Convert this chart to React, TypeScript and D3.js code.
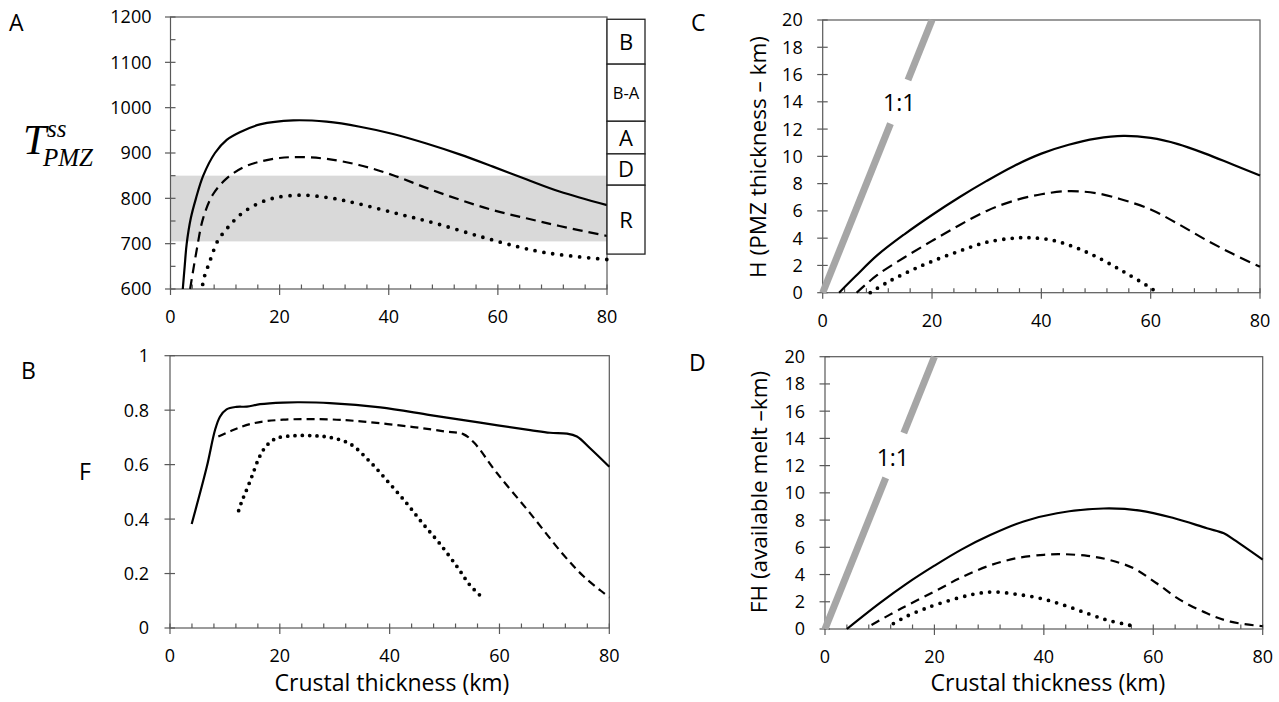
import React from 'react';
import * as d3 from 'd3';

type Pt = [number, number];

// ---------- data ----------
const crustTicks = [0, 20, 40, 60, 80];
const tempTicks = [600, 700, 800, 900, 1000, 1100, 1200];
const tempMinorTicks = [650, 750, 850, 950, 1050, 1150];
const meltTicks = [0, 0.2, 0.4, 0.6, 0.8, 1];
const thickTicks = [0, 2, 4, 6, 8, 10, 12, 14, 16, 18, 20];

// Panel A: steady-state PMZ temperature
const tempSolid: Pt[] = [[2.25, 600], [2.6, 650], [2.97, 700], [3.7, 755], [4.67, 800], [6.0, 850], [8.15, 900], [10.3, 929], [12.7, 946], [16.4, 963], [22.5, 972], [28.6, 969], [34.7, 958], [40.8, 942], [46.9, 921], [53, 897], [59.1, 870], [65.2, 842], [71.3, 815], [80, 785]];
const tempDashed: Pt[] = [[3.6, 600], [4.8, 686], [6.0, 757], [7.8, 809], [10.3, 844], [13.3, 868], [16.4, 881], [20, 889], [23.7, 891], [28.6, 887], [34.7, 873], [40.8, 851], [46.9, 823], [53, 797], [59.1, 774], [65.2, 756], [71.3, 739], [80, 717]];
const tempDotted: Pt[] = [[5.9, 610], [6.3, 631], [6.9, 651], [7.5, 671], [8.6, 705], [10.6, 737], [13, 766], [15.8, 787], [19.1, 801], [24, 807], [29.2, 801], [34.1, 789], [42, 765], [48.8, 744], [56.7, 716], [63.4, 694], [68.3, 681], [74, 672], [80, 665]];
const tempBand: [number, number] = [705, 850];
const faciesNames = ['B', 'B-A', 'A', 'D', 'R'];
const faciesTop = [1195, 1096, 970, 898, 829];
const faciesBottom = [1096, 970, 898, 829, 677];

// Panel B: melt fraction F
const meltSolid: Pt[] = [[3.95, 0.382], [6.7, 0.592], [8.2, 0.727], [9.1, 0.776], [10.3, 0.803], [12.1, 0.812], [14, 0.813], [16.4, 0.822], [20.6, 0.828], [23.7, 0.829], [29.1, 0.826], [38.3, 0.81], [47.4, 0.782], [56.5, 0.754], [65.6, 0.727], [69.2, 0.717], [72.3, 0.714], [74.1, 0.703], [76.5, 0.66], [80, 0.592]];
const meltDashed: Pt[] = [[8.8, 0.703], [11.5, 0.727], [15.2, 0.752], [20.6, 0.765], [29.1, 0.766], [35.2, 0.758], [44.3, 0.738], [50, 0.722], [53.4, 0.712], [55.4, 0.68], [59.5, 0.57], [65.6, 0.421], [71.6, 0.27], [75.3, 0.19], [79.2, 0.125], [80, 0.112]];
const meltDotted: Pt[] = [[12.5, 0.431], [13.05, 0.464], [13.7, 0.495], [14.9, 0.556], [16.1, 0.62], [17, 0.654], [17.9, 0.676], [19.4, 0.697], [22.5, 0.706], [26.1, 0.706], [29.1, 0.7], [32.8, 0.676], [36.4, 0.611], [39.8, 0.535], [43.1, 0.458], [46.1, 0.382], [49.2, 0.308], [52.5, 0.219], [54.6, 0.158], [56.6, 0.117]];

// Panel C: PMZ thickness H
const hSolid: Pt[] = [[3.0, 0], [6, 1.2], [10, 2.75], [15, 4.3], [20, 5.7], [25, 7.0], [30, 8.2], [35, 9.3], [40, 10.2], [45, 10.85], [50, 11.3], [55, 11.5], [60, 11.35], [65, 10.9], [70, 10.2], [75, 9.4], [80, 8.6]];
const hDashed: Pt[] = [[6.2, 0], [10, 1.3], [15, 2.6], [20, 3.8], [25, 4.95], [30, 6.0], [35, 6.75], [40, 7.22], [45, 7.45], [50, 7.3], [55, 6.8], [60, 6.1], [65, 5.05], [70, 3.9], [75, 2.85], [80, 1.9]];
const hDotted: Pt[] = [[8.7, 0], [12, 0.8], [16, 1.6], [20, 2.3], [25, 3.05], [30, 3.7], [35, 4.0], [38, 4.03], [42, 3.85], [46, 3.35], [50, 2.65], [55, 1.55], [60, 0.35], [61.2, 0]];

// Panel D: available melt FH
const fhSolid: Pt[] = [[4, 0], [10, 1.9], [15, 3.35], [20, 4.65], [25, 5.85], [30.2, 6.9], [36.3, 7.9], [42.4, 8.5], [50.9, 8.85], [57.6, 8.7], [63.7, 8.15], [69.8, 7.4], [72.9, 7.03], [74.8, 6.55], [80, 5.1]];
const fhDashed: Pt[] = [[8.5, 0.3], [14, 1.52], [20, 2.75], [25, 3.8], [30, 4.65], [35, 5.2], [40, 5.45], [43, 5.5], [48, 5.37], [52, 5.07], [56.4, 4.46], [60.6, 3.36], [64.9, 2.14], [69.8, 1.15], [74.1, 0.54], [80, 0.2]];
const fhDotted: Pt[] = [[12.5, 0.4], [15, 0.95], [18, 1.45], [20, 1.75], [25, 2.35], [28, 2.62], [31, 2.72], [35, 2.55], [39.4, 2.25], [43.6, 1.76], [47.9, 1.15], [51.5, 0.66], [54.6, 0.37], [56.3, 0.22]];

const oneToOne: Pt[] = [[0, 0], [20, 20]];

// ---------- layout ----------
const FONT = "'Open Sans', sans-serif";
const SERIF = "'Liberation Serif', 'Times New Roman', serif";
const AXIS = '#595959';
const TICK_FS = 18;
const TITLE_FS = 23;

type Geo = { x0: number; x1: number; yT: number; yB: number };
const geoA: Geo = { x0: 170.5, x1: 607, yT: 17, yB: 289 };
const geoB: Geo = { x0: 170, x1: 609.3, yT: 355.7, yB: 628 };
const geoC: Geo = { x0: 822.7, x1: 1260, yT: 20, yB: 292.7 };
const geoD: Geo = { x0: 825, x1: 1262.7, yT: 356.7, yB: 629 };

type Series = { pts: Pt[]; style: 'solid' | 'dashed' | 'dotted' };

function makeScales(g: Geo, yDom: [number, number]) {
  const x = d3.scaleLinear().domain([0, 80]).range([g.x0, g.x1]);
  const y = d3.scaleLinear().domain(yDom).range([g.yB, g.yT]);
  return { x, y };
}

function Axes({ g, x, y, yTicks, yMinor, fmt, labelGap }: any) {
  const minorX = d3.range(0, 81, 4).filter((v) => v % 20 !== 0);
  return (
    <g>
      <rect x={g.x0} y={g.yT} width={g.x1 - g.x0} height={g.yB - g.yT} fill="none" stroke={AXIS} strokeWidth={1.2} />
      {yTicks.map((t: number) => (
        <g key={'y' + t}>
          <line x1={g.x0 - 5.5} x2={g.x0 + 5} y1={y(t)} y2={y(t)} stroke={AXIS} strokeWidth={1.2} />
          <text x={g.x0 - labelGap} y={y(t)} dy="0.36em" textAnchor="end" fontSize={TICK_FS} fontFamily={FONT} fill="#000">{fmt(t)}</text>
        </g>
      ))}
      {(yMinor || []).map((t: number) => (
        <line key={'ym' + t} x1={g.x0} x2={g.x0 + 5} y1={y(t)} y2={y(t)} stroke={AXIS} strokeWidth={1.2} />
      ))}
      {crustTicks.map((t) => (
        <g key={'x' + t}>
          <line x1={x(t)} x2={x(t)} y1={g.yB - 4.5} y2={g.yB + 6} stroke={AXIS} strokeWidth={1.2} />
          <text x={x(t)} y={g.yB + 34} textAnchor="middle" fontSize={TICK_FS} fontFamily={FONT} fill="#000">{t}</text>
        </g>
      ))}
      {minorX.map((t) => (
        <line key={'xm' + t} x1={x(t)} x2={x(t)} y1={g.yB - 4.5} y2={g.yB} stroke={AXIS} strokeWidth={1.2} />
      ))}
    </g>
  );
}

function Lines({ x, y, series, dash, dot }: any) {
  const line = d3.line<Pt>().x((d) => x(d[0])).y((d) => y(d[1])).curve(d3.curveCatmullRom.alpha(0.5));
  return (
    <g>
      {series.map((s: Series, i: number) => (
        <path
          key={i}
          d={line(s.pts) || ''}
          fill="none"
          stroke="#000"
          strokeWidth={s.style === 'dotted' ? 3.8 : 2.2}
          strokeLinecap={s.style === 'dotted' ? 'round' : 'butt'}
          strokeDasharray={s.style === 'dashed' ? dash : s.style === 'dotted' ? dot : undefined}
        />
      ))}
    </g>
  );
}

function OneToOne({ x, y, gap, label }: any) {
  const [a, b] = oneToOne;
  const segs: Pt[][] = [[a, [gap[0], gap[0]]], [[gap[1], gap[1]], b]];
  return (
    <g>
      {segs.map((s, i) => (
        <line key={i} x1={x(s[0][0])} y1={y(s[0][1])} x2={x(s[1][0])} y2={y(s[1][1])} stroke="#a6a6a6" strokeWidth={7} />
      ))}
      <text x={x(label[0])} y={y(label[1])} dy="0.36em" textAnchor="middle" fontSize={23} fontFamily={FONT} fill="#000">1:1</text>
    </g>
  );
}

export default function App() {
  const A = makeScales(geoA, [600, 1200]);
  const B = makeScales(geoB, [0, 1]);
  const C = makeScales(geoC, [0, 20]);
  const D = makeScales(geoD, [0, 20]);
  const boxX0 = geoA.x1;
  const boxX1 = 645;
  return (
    <svg width={1279} height={702} style={{ position: 'absolute', left: 0, top: 0, background: '#fff' }}>
      {/* Panel A */}
      <rect x={geoA.x0} y={A.y(tempBand[1])} width={geoA.x1 - geoA.x0} height={A.y(tempBand[0]) - A.y(tempBand[1])} fill="#d9d9d9" />
      <Axes g={geoA} x={A.x} y={A.y} yTicks={tempTicks} yMinor={tempMinorTicks} fmt={(v: number) => String(v)} labelGap={19} />
      <Lines x={A.x} y={A.y} dash="10 6" dot="0 9"
        series={[{ pts: tempSolid, style: 'solid' }, { pts: tempDashed, style: 'dashed' }, { pts: tempDotted, style: 'dotted' }]} />
      {faciesNames.map((n, i) => (
        <g key={n}>
          <rect x={boxX0} y={A.y(faciesTop[i])} width={boxX1 - boxX0} height={A.y(faciesBottom[i]) - A.y(faciesTop[i])} fill="#fff" stroke="#222" strokeWidth={1.3} />
          <text x={(boxX0 + boxX1) / 2} y={(A.y(faciesTop[i]) + A.y(faciesBottom[i])) / 2} dy="0.36em" textAnchor="middle" fontSize={n === 'B-A' ? 16.5 : 22} fontFamily={FONT} fill="#000">{n}</text>
        </g>
      ))}
      <text x={9} y={31} fontSize={TITLE_FS} fontFamily={FONT}>A</text>
      <text fontFamily={SERIF} fontStyle="italic" fill="#000">
        <tspan x={23} y={154} fontSize={42}>T</tspan>
        <tspan x={47} y={137} fontSize={25}>ss</tspan>
        <tspan x={43} y={166} fontSize={25}>PMZ</tspan>
      </text>

      {/* Panel B */}
      <Axes g={geoB} x={B.x} y={B.y} yTicks={meltTicks} fmt={(v: number) => (v === 0 || v === 1 ? String(v) : d3.format('.1f')(v))} labelGap={21} />
      <Lines x={B.x} y={B.y} dash="8 5" dot="0 7.3"
        series={[{ pts: meltSolid, style: 'solid' }, { pts: meltDashed, style: 'dashed' }, { pts: meltDotted, style: 'dotted' }]} />
      <text x={21} y={379} fontSize={TITLE_FS} fontFamily={FONT}>B</text>
      <text x={85} y={480} textAnchor="middle" fontSize={TITLE_FS} fontFamily={FONT}>F</text>
      <text x={392} y={691} textAnchor="middle" fontSize={TITLE_FS} fontFamily={FONT}>Crustal thickness (km)</text>

      {/* Panel C */}
      <Axes g={geoC} x={C.x} y={C.y} yTicks={thickTicks} fmt={(v: number) => String(v)} labelGap={20} />
      <OneToOne x={C.x} y={C.y} gap={[12.4, 15.6]} label={[14, 13.9]} />
      <Lines x={C.x} y={C.y} dash="11 6" dot="0 8.5"
        series={[{ pts: hSolid, style: 'solid' }, { pts: hDashed, style: 'dashed' }, { pts: hDotted, style: 'dotted' }]} />
      <text x={691} y={31} fontSize={TITLE_FS} fontFamily={FONT}>C</text>
      <text transform={`translate(766,157) rotate(-90)`} textAnchor="middle" fontSize={22.5} fontFamily={FONT}>H (PMZ thickness – km)</text>

      {/* Panel D */}
      <Axes g={geoD} x={D.x} y={D.y} yTicks={thickTicks} fmt={(v: number) => String(v)} labelGap={20} />
      <OneToOne x={D.x} y={D.y} gap={[11.1, 14.4]} label={[12.4, 12.6]} />
      <Lines x={D.x} y={D.y} dash="9 6" dot="0 8.5"
        series={[{ pts: fhSolid, style: 'solid' }, { pts: fhDashed, style: 'dashed' }, { pts: fhDotted, style: 'dotted' }]} />
      <text x={689} y={371} fontSize={TITLE_FS} fontFamily={FONT}>D</text>
      <text transform={`translate(767,492) rotate(-90)`} textAnchor="middle" fontSize={22.5} fontFamily={FONT}>FH (available melt –km)</text>
      <text x={1048} y={691} textAnchor="middle" fontSize={TITLE_FS} fontFamily={FONT}>Crustal thickness (km)</text>
    </svg>
  );
}
